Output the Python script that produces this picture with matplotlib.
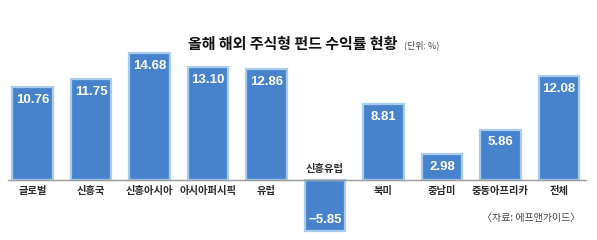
import matplotlib
matplotlib.use("Agg")
import matplotlib.pyplot as plt
import numpy as np

categories = ["글로벌", "신흥국", "신흥아시아", "아시아퍼시픽", "유럽",
              "신흥유럽", "북미", "중남미", "중동아프리카", "전체"]
returns = [10.76, 11.75, 14.68, 13.10, 12.86, -5.85, 8.81, 2.98, 5.86, 12.08]
value_labels = ["10.76", "11.75", "14.68", "13.10", "12.86",
                "−5.85", "8.81", "2.98", "5.86", "12.08"]

title = "올해 해외 주식형 펀드 수익률 현황"
unit = "(단위: %)"
source = "〈자료: 에프앤가이드〉"

KR = ["Noto Sans CJK KR", "DejaVu Sans"]
NUM = ["Liberation Sans", "DejaVu Sans"]

fig = plt.figure(figsize=(5.97, 2.40), dpi=100)
ax = fig.add_axes([3.25 / 597, 0, 585 / 597, 198 / 240])
ax.set_xlim(-0.5, len(categories) - 0.5)
ax.set_ylim(-6.94, 16)
ax.axis("off")

x = np.arange(len(categories))
ax.bar(x, returns, width=0.70, color="#4783cc", edgecolor="#a8ccee",
       linewidth=1.6, zorder=2)
ax.axhline(0, xmin=0.008, xmax=0.997, color="#9a9a9a", linewidth=1.0, zorder=3)

px = 1 / 8.645  # data units per pixel
for xi, v, lab, cat in zip(x, returns, value_labels, categories):
    if v >= 0:
        ax.text(xi, v - 13 * px, lab, ha="center", va="center", color="white",
                fontsize=9.5, fontweight="bold", family=NUM, zorder=4)
        ax.text(xi, -11 * px, cat, ha="center", va="center", color="#2a2a2a",
                fontsize=7.4, fontweight="bold", family=KR)
    else:
        ax.text(xi, v + 11 * px, lab, ha="center", va="center", color="white",
                fontsize=9.5, fontweight="bold", family=NUM, zorder=4)
        ax.text(xi, 11 * px, cat, ha="center", va="center", color="#2a2a2a",
                fontsize=7.4, fontweight="bold", family=KR)

fig.text(397 / 597, 1 - 44 / 240, title, ha="right", va="center",
         fontsize=10.8, fontweight="bold", family=KR, color="#111111")
fig.text(404 / 597, 1 - 45 / 240, unit, ha="left", va="center",
         fontsize=6.5, family=KR, color="#444444")
fig.text(580 / 597, 1 - 218 / 240, source, ha="right", va="center",
         fontsize=7.2, family=KR, color="#444444")

fig.savefig("out.png", dpi=100)
